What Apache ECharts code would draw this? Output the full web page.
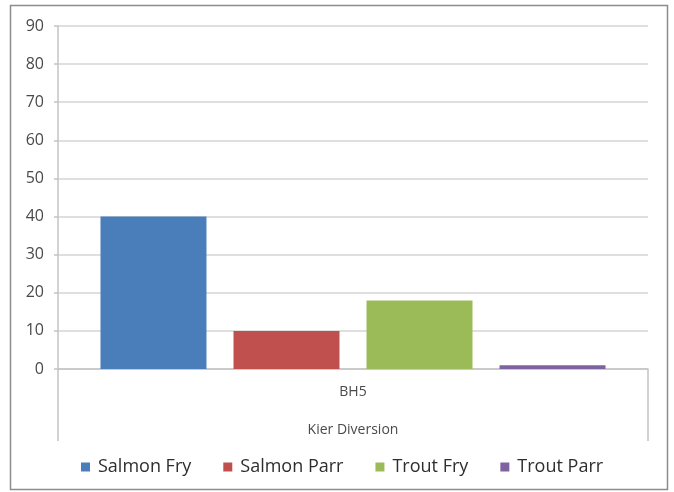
<!DOCTYPE html>
<html>
<head>
<meta charset="utf-8">
<script src="https://cdn.jsdelivr.net/npm/echarts@6/dist/echarts.min.js"></script>
<style>
  html, body { margin: 0; padding: 0; background: #fff; }
  #chart { width: 674px; height: 492px; }
</style>
</head>
<body>
<div id="chart"></div>
<script>
// Data
const categories = ['BH5']
const groupLabels = ['Kier Diversion']
const seriesNames = ['Salmon Fry', 'Salmon Parr', 'Trout Fry', 'Trout Parr']
const salmonFry = [40]
const salmonParr = [10]
const troutFry = [18]
const troutParr = [1]
const yTicks = { min: 0, max: 90, interval: 10 }

const COLORS = ['#4a7ebb', '#c0504d', '#9bbb59', '#7f63a1']
const FONT = 'Open Sans'

const chart = echarts.init(document.getElementById('chart'), null, { renderer: 'canvas' })

const values = [salmonFry, salmonParr, troutFry, troutParr]
const series = seriesNames.map((name, i) => ({
  name,
  type: 'bar',
  xAxisIndex: 0,
  data: values[i],
  barGap: '25.5%',
  barCategoryGap: '14.4%',
  itemStyle: { color: COLORS[i] },
}))

chart.setOption({
  animation: false,
  backgroundColor: '#fff',
  // outer chart frame
  graphic: [{
    type: 'rect',
    shape: { x: 10.5, y: 5.5, width: 657, height: 484 },
    style: { fill: null, stroke: '#8c8c8c', lineWidth: 1.5 },
    silent: true,
  }],
  grid: { left: 58, right: 26, top: 26, bottom: 123, containLabel: false },
  legend: {
    data: seriesNames,
    bottom: 11,
    left: 76,
    itemWidth: 9,
    itemHeight: 9,
    itemGap: 32,
    icon: 'rect',
    textStyle: { fontFamily: FONT, fontSize: 18, color: '#2e2e2e', padding: [0, 0, 0, 3] },
  },
  xAxis: [
    {
      type: 'category',
      data: categories,
      position: 'bottom',
      axisLine: { show: true, lineStyle: { color: '#c4c4c4', width: 1.5 } },
      axisTick: { show: true, length: 72, lineStyle: { color: '#c4c4c4', width: 1.5 } },
      axisLabel: { margin: 16, fontFamily: FONT, fontSize: 14, color: '#4a4a4a' },
    },
    {
      type: 'category',
      data: groupLabels,
      position: 'bottom',
      offset: 38,
      axisLine: { show: false },
      axisTick: { show: false },
      axisLabel: { margin: 16, fontFamily: FONT, fontSize: 14, color: '#4a4a4a' },
    },
  ],
  yAxis: {
    type: 'value',
    min: yTicks.min,
    max: yTicks.max,
    interval: yTicks.interval,
    axisLine: { show: true, lineStyle: { color: '#c4c4c4', width: 1.5 } },
    axisTick: { show: true, length: 4, lineStyle: { color: '#c4c4c4', width: 1.5 } },
    axisLabel: { margin: 14, fontFamily: FONT, fontSize: 16, color: '#4a4a4a' },
    splitLine: { lineStyle: { color: '#d4d4d4', width: 1.5 } },
  },
  series,
})
</script>
</body>
</html>
